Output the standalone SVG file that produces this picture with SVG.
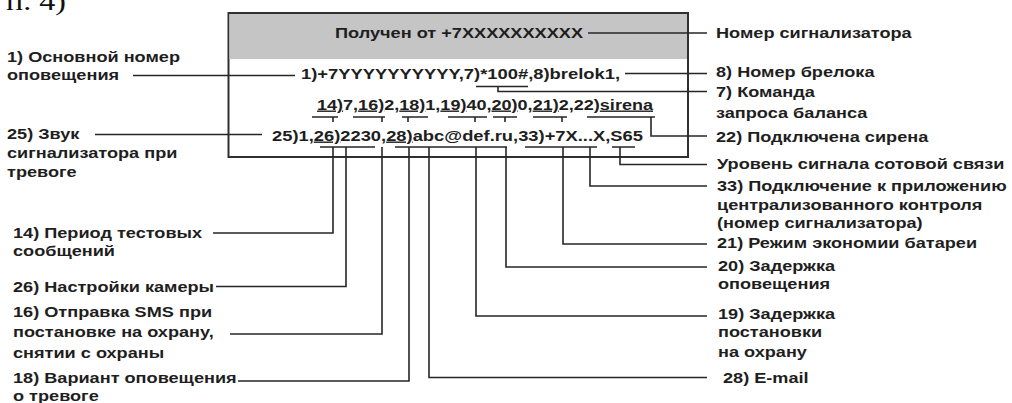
<svg xmlns="http://www.w3.org/2000/svg" width="1012" height="403" viewBox="0 0 1012 403">
<style>
  .t { font-family: "Liberation Sans", Arial, sans-serif; font-weight: bold; font-size: 15px; fill: #1e1e1e; }
  .b { font-size: 14px; }
  .u { text-decoration: underline; }
  .ln { stroke: #262626; stroke-width: 1.6; fill: none; }
  .serif { font-family: "Liberation Serif", "Times New Roman", serif; font-size: 26px; fill: #111; }
</style>
<rect x="0" y="0" width="1012" height="403" fill="#ffffff"/>
<text class="serif" x="6" y="10" textLength="60" lengthAdjust="spacingAndGlyphs">п. 4)</text>

<g id="message-box">
  <rect x="228.5" y="13" width="459.5" height="144" fill="#ffffff" stroke="#303030" stroke-width="2"/>
  <rect x="229.5" y="14" width="457.5" height="45" fill="#c5c5c5"/>
  <text class="t b" x="335" y="38" textLength="248" lengthAdjust="spacingAndGlyphs">Получен от +7XXXXXXXXXX</text>
  <text class="t b" x="301" y="79" textLength="319" lengthAdjust="spacingAndGlyphs">1)+7YYYYYYYYYY,7)*100#,8)brelok1,</text>
  <text class="t b" x="317" y="109.5" textLength="336" lengthAdjust="spacingAndGlyphs"><tspan class="u">14)</tspan>7,<tspan class="u">16)</tspan>2,<tspan class="u">18)</tspan>1,<tspan class="u">19)</tspan>40,<tspan class="u">20)</tspan>0,<tspan class="u">21)</tspan>2,22)<tspan class="u">sirena</tspan></text>
  <text class="t b" x="272" y="140.5" textLength="371" lengthAdjust="spacingAndGlyphs">25)1,<tspan class="u">26)</tspan>2230,<tspan class="u">28)</tspan>abc@def.ru,33)+7X...X,S65</text>
</g>

<g id="connectors" class="ln">
  <path d="M588,33 H707"/>
  <path d="M133,75.5 H295"/>
  <path d="M625,73.5 H707"/>
  <path d="M476,86.5 H528 M498,86.5 V91.5 H707"/>
  <path d="M95,134.5 H262"/>
  <path d="M312,117 H338 M333,117 V122"/>
  <path d="M353,117 H385 M382,117 V122"/>
  <path d="M402,117 H428 M408,117 V122"/>
  <path d="M448,117 H487 M475,117 V122"/>
  <path d="M493,117 H517 M505,117 V122"/>
  <path d="M533,117 H567 M562,117 V122"/>
  <path d="M587,117 H655 M651,117 V136 H707"/>
  <path d="M320,147 H375 M395,147 H507 M525,147 H597 M612,147 H635"/>
  <path d="M333,147 V233 H213"/>
  <path d="M346,147 V286.5 H216"/>
  <path d="M382,147 V334 H230"/>
  <path d="M409,147 V381 H238"/>
  <path d="M429,147 V377.5 H707"/>
  <path d="M476,147 V316 H707"/>
  <path d="M506,147 V267 H707"/>
  <path d="M563,147 V244 H707"/>
  <path d="M590,147 V186 H707"/>
  <path d="M620,147 V164.5 H707"/>
</g>

<g id="label-1" transform="translate(7,0) scale(1.21,1)">
  <text class="t" x="0" y="62">1) Основной номер</text>
  <text class="t" x="0" y="80.5">оповещения</text>
</g>
<g id="label-25" transform="translate(7,0) scale(1.21,1)">
  <text class="t" x="0" y="139">25) Звук</text>
  <text class="t" x="0" y="158">сигнализатора при</text>
  <text class="t" x="0" y="177">тревоге</text>
</g>
<g id="label-14" transform="translate(13,0) scale(1.21,1)">
  <text class="t" x="0" y="238">14) Период тестовых</text>
  <text class="t" x="0" y="256.5">сообщений</text>
</g>
<g id="label-26" transform="translate(13,0) scale(1.21,1)">
  <text class="t" x="0" y="292">26) Настройки камеры</text>
</g>
<g id="label-16" transform="translate(13,0) scale(1.21,1)">
  <text class="t" x="0" y="317">16) Отправка SMS при</text>
  <text class="t" x="0" y="337.5">постановке на охрану,</text>
  <text class="t" x="0" y="358">снятии с охраны</text>
</g>
<g id="label-18" transform="translate(13,0) scale(1.21,1)">
  <text class="t" x="0" y="383">18) Вариант оповещения</text>
  <text class="t" x="0" y="401">о тревоге</text>
</g>

<g id="label-number" transform="translate(716,0) scale(1.21,1)">
  <text class="t" x="0" y="38.5">Номер сигнализатора</text>
</g>
<g id="label-8" transform="translate(716,0) scale(1.21,1)">
  <text class="t" x="0" y="77">8) Номер брелока</text>
</g>
<g id="label-7" transform="translate(716,0) scale(1.21,1)">
  <text class="t" x="0" y="97">7) Команда</text>
  <text class="t" x="0" y="118">запроса баланса</text>
</g>
<g id="label-22" transform="translate(716,0) scale(1.21,1)">
  <text class="t" x="0" y="142">22) Подключена сирена</text>
</g>
<g id="label-signal" transform="translate(717,0) scale(1.21,1)">
  <text class="t" x="0" y="169">Уровень сигнала сотовой связи</text>
</g>
<g id="label-33" transform="translate(717,0) scale(1.21,1)">
  <text class="t" x="0" y="191">33) Подключение к приложению</text>
  <text class="t" x="0" y="210">централизованного контроля</text>
  <text class="t" x="0" y="228">(номер сигнализатора)</text>
</g>
<g id="label-21" transform="translate(717,0) scale(1.21,1)">
  <text class="t" x="0" y="248.5">21) Режим экономии батареи</text>
</g>
<g id="label-20" transform="translate(718,0) scale(1.21,1)">
  <text class="t" x="0" y="271.5">20) Задержка</text>
  <text class="t" x="0" y="289.5">оповещения</text>
</g>
<g id="label-19" transform="translate(718,0) scale(1.21,1)">
  <text class="t" x="0" y="319">19) Задержка</text>
  <text class="t" x="0" y="337">постановки</text>
  <text class="t" x="0" y="357">на охрану</text>
</g>
<g id="label-28" transform="translate(723,0) scale(1.21,1)">
  <text class="t" x="0" y="383">28) E-mail</text>
</g>
</svg>
